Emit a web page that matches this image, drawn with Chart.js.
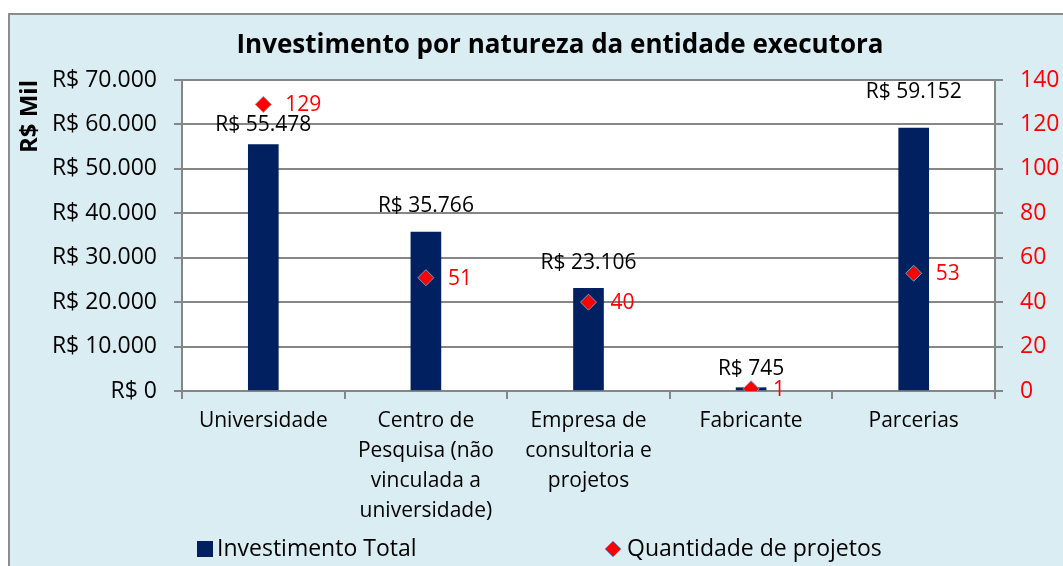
<!DOCTYPE html>
<html>
<head>
<meta charset="utf-8">
<script src="https://cdn.jsdelivr.net/npm/chart.js"></script>
<style>
  html, body { margin: 0; padding: 0; background: #fff; overflow: hidden; width: 1063px; height: 566px; }
  #box { position: absolute; left: 8px; top: 13px; width: 1104px; height: 553px; }
</style>
</head>
<body>
<div id="box"><canvas id="chart"></canvas></div>
<script>
    const categories = [
        'Universidade',
        ['Centro de', 'Pesquisa (não', 'vinculada a', 'universidade)'],
        ['Empresa de', 'consultoria e', 'projetos'],
        'Fabricante',
        'Parcerias'
    ];
    const investimento = [55478, 35766, 23106, 745, 59152];   // R$ Mil
    const quantidade = [129, 51, 40, 1, 53];
    const leftTicks = [0, 10000, 20000, 30000, 40000, 50000, 60000, 70000];
    const rightTicks = [0, 20, 40, 60, 80, 100, 120, 140];

    const FONT = "'Open Sans', sans-serif";
    const GRID = '#868686';
    const labelLift = [20, 26, 25, 19, 36]; // bar label offsets as placed in the original

    const fmt = v => 'R$ ' + String(v).replace(/\B(?=(\d{3})+(?!\d))/g, '.');

    const decor = {
        id: 'decor',
        beforeDraw(chart) {
            const c = chart.ctx, a = chart.chartArea;
            c.save();
            c.fillStyle = '#DAEDF3';
            c.fillRect(0, 0, chart.width, chart.height);
            c.fillStyle = '#fff';
            c.fillRect(a.left, a.top, a.right - a.left, a.bottom - a.top);
            c.strokeStyle = '#8C8C8C';
            c.lineWidth = 2;
            c.beginPath();
            c.moveTo(1, chart.height);
            c.lineTo(1, 1);
            c.lineTo(chart.width, 1);
            c.stroke();
            c.restore();
        },
        afterDraw(chart) {
            const c = chart.ctx;
            c.save();
            // bar value labels
            c.font = '21px ' + FONT;
            c.fillStyle = '#000';
            c.textAlign = 'center';
            c.textBaseline = 'middle';
            chart.getDatasetMeta(0).data.forEach((b, i) => {
                c.fillText(fmt(investimento[i]), b.x, b.y - labelLift[i]);
            });
            // point labels
            c.fillStyle = '#FF0000';
            c.textAlign = 'left';
            chart.getDatasetMeta(1).data.forEach((p, i) => {
                c.fillText(String(quantidade[i]), p.x + 22, p.y + 1);
            });
            // legend
            const ly = 536;
            c.font = '23px ' + FONT;
            c.fillStyle = '#002060';
            c.fillRect(189, ly - 8, 16, 16);
            c.fillStyle = '#000';
            c.fillText(chart.data.datasets[0].label, 209, ly);
            c.beginPath();
            c.moveTo(605, ly - 8); c.lineTo(613, ly); c.lineTo(605, ly + 8); c.lineTo(597, ly); c.closePath();
            c.fillStyle = '#FF0000';
            c.fill();
            c.strokeStyle = '#6C9BD2';
            c.lineWidth = 1;
            c.stroke();
            c.fillStyle = '#000';
            c.fillText(chart.data.datasets[1].label, 619, ly);
            c.restore();
        }
    };

    new Chart(document.getElementById('chart'), {
        data: {
            labels: categories,
            datasets: [{
                type: 'bar',
                label: 'Investimento Total',
                data: investimento,
                backgroundColor: '#002060',
                barThickness: 30,
                yAxisID: 'y',
                order: 1
            }, {
                type: 'line',
                label: 'Quantidade de projetos',
                data: quantidade,
                showLine: false,
                pointStyle: 'rectRot',
                pointRadius: 8,
                pointBackgroundColor: '#FF0000',
                pointBorderColor: '#6C9BD2',
                pointBorderWidth: 1,
                yAxisID: 'y1',
                order: 0
            }]
        },
        options: {
            responsive: true,
            maintainAspectRatio: false,
            animation: false,
            layout: { padding: 0 },
            plugins: {
                legend: { display: false },
                tooltip: { enabled: false },
                title: {
                    display: true,
                    text: 'Investimento por natureza da entidade executora',
                    color: '#000',
                    font: { family: FONT, size: 26, weight: 'bold', lineHeight: 1.2 },
                    padding: { top: 17, bottom: 18.8 }
                }
            },
            scales: {
                x: {
                    offset: true,
                    ticks: { color: '#000', font: { family: FONT, size: 21, lineHeight: 1.43 }, padding: 7, maxRotation: 0, autoSkip: false },
                    grid: { drawOnChartArea: false, tickLength: 8, color: GRID, lineWidth: 2, offset: true },
                    border: { color: GRID, width: 2 },
                    afterFit: s => { s.height = 175; }
                },
                y: {
                    position: 'left',
                    min: 0, max: 70000,
                    afterBuildTicks: s => { s.ticks = leftTicks.map(v => ({ value: v })); },
                    ticks: { color: '#000', font: { family: FONT, size: 23 }, padding: 17, callback: v => fmt(v) },
                    grid: { color: GRID, lineWidth: 2, tickLength: 8 },
                    border: { color: GRID, width: 2 },
                    title: { display: true, text: 'R$ Mil', align: 'end', color: '#000', font: { family: FONT, size: 24, weight: 'bold' }, padding: { top: 8 } },
                    afterFit: s => { s.width = 174; }
                },
                y1: {
                    position: 'right',
                    min: 0, max: 140,
                    afterBuildTicks: s => { s.ticks = rightTicks.map(v => ({ value: v })); },
                    ticks: { color: '#FF0000', font: { family: FONT, size: 23 }, padding: 17 },
                    grid: { drawOnChartArea: false, color: GRID, lineWidth: 2, tickLength: 8 },
                    border: { color: GRID, width: 2 },
                    afterFit: s => { s.width = 117; }
                }
            }
        },
        plugins: [decor]
    });
</script>
</body>
</html>
